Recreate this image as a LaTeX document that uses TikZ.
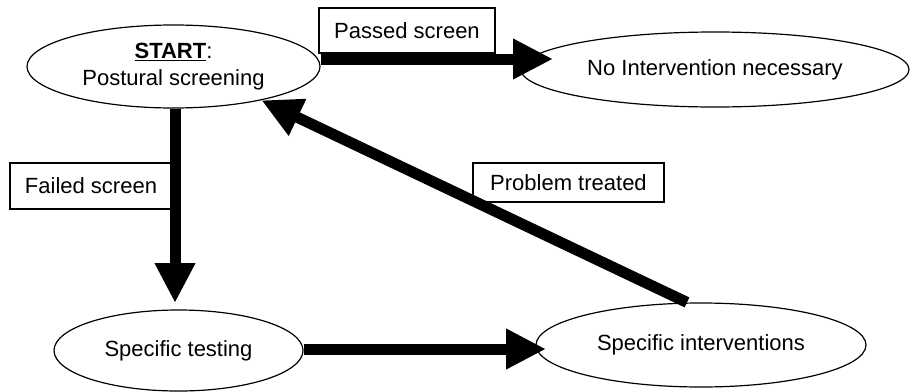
\documentclass[tikz,border=0pt]{standalone}
\usepackage{fontspec}
\setmainfont{Liberation Sans}
\usetikzlibrary{shapes.geometric,arrows.meta}

\begin{document}
\begin{tikzpicture}[x=1pt, y=-1pt,
    state/.style={ellipse, draw, line width=1.2pt, inner sep=0pt, align=center,
      font=\fontsize{22}{27}\selectfont},
    lbl/.style={rectangle, draw, line width=1.2pt, inner sep=0pt, fill=white,
      font=\fontsize{22}{27}\selectfont},
    flow/.style={line width=11pt, -{Triangle[length=40pt,width=38pt]}}]
    \useasboundingbox (0,0) rectangle (910,391);
    % states
    \node[state, minimum width=293pt, minimum height=83pt] (start) at (173.5,66.5)
      {\underline{\textbf{START}}:\\Postural screening};
    \node[state, minimum width=388pt, minimum height=75pt] (noint) at (715,69.5)
      {No Intervention necessary};
    \node[state, minimum width=249pt, minimum height=81pt] (test) at (178.5,350.5)
      {Specific testing};
    \node[state, minimum width=330pt, minimum height=84pt] (int) at (701,345)
      {Specific interventions};
    % labels
    \node[lbl, minimum width=176pt, minimum height=45pt] (passed) at (407,30.5) {Passed screen};
    \node[lbl, minimum width=162pt, minimum height=46pt] (failed) at (91,186) {Failed screen};
    \node[lbl, minimum width=191pt, minimum height=39pt] (treated) at (568.5,182.5) {Problem treated};
    % arrow tips
    \coordinate (passtip) at (553,59);
    \coordinate (testtip) at (175,303);
    \coordinate (inttip) at (546,349);
    \draw[flow] (start.east |- passtip) -- (passtip);
    \draw[flow] (start.south -| testtip) -- (testtip);
    \draw[flow] (test.east |- inttip) -- (inttip);
    \draw[flow] ([xshift=-14pt]int.north) -- (start.-21);
\end{tikzpicture}
\end{document}
